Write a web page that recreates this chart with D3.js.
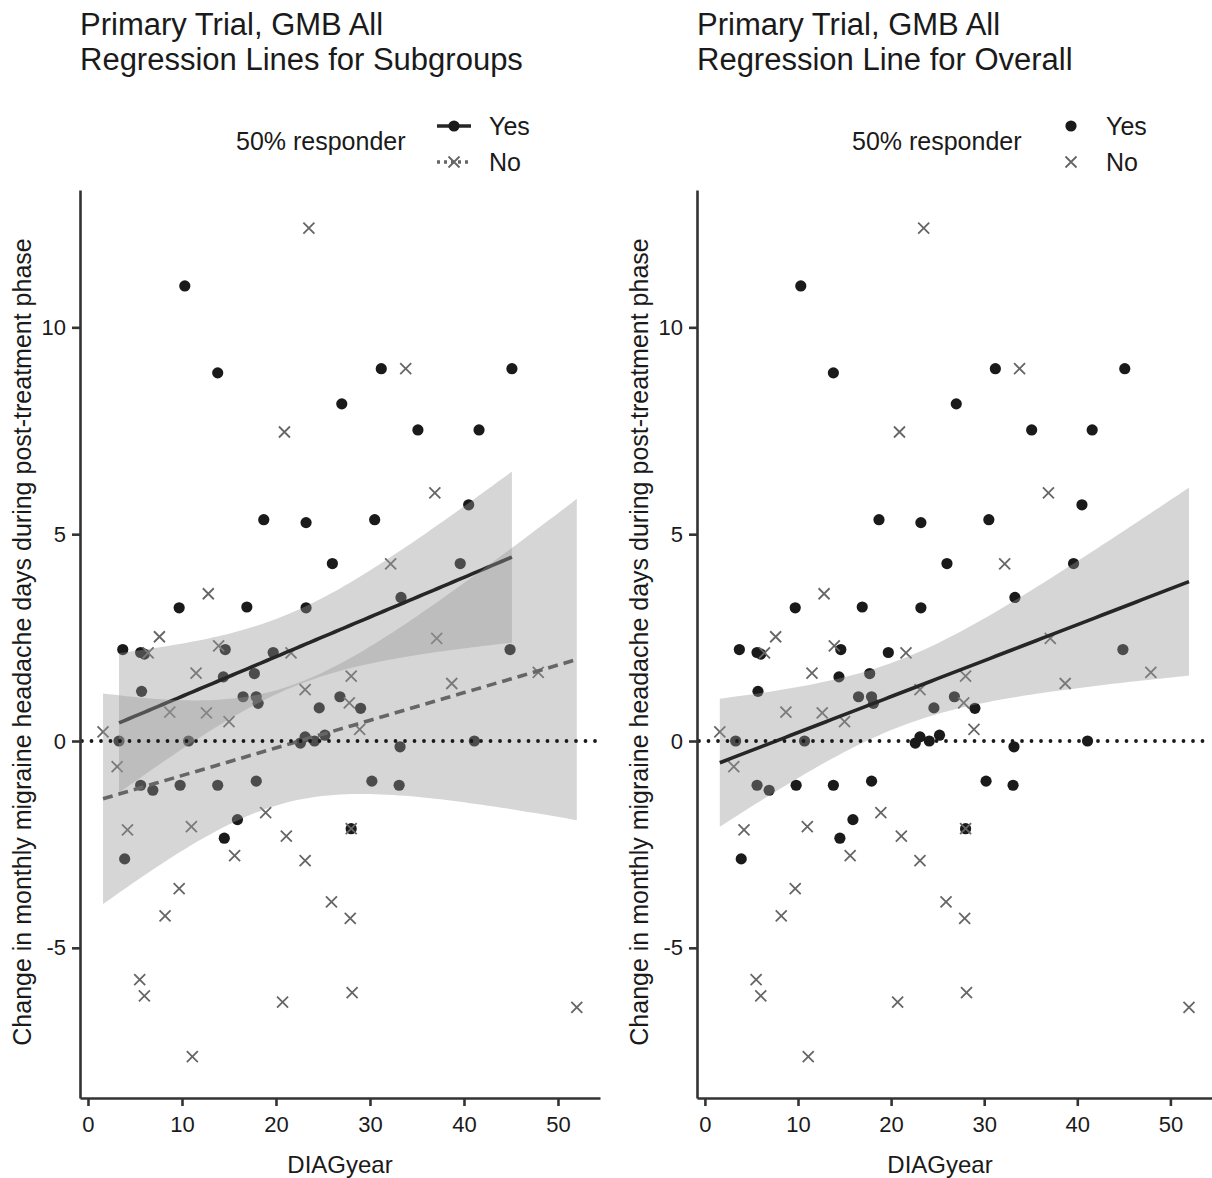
<!DOCTYPE html>
<html>
<head>
<meta charset="utf-8">
<title>Primary Trial, GMB All</title>
<script src="https://d3js.org/d3.v7.min.js"></script>
<style>
body { margin: 0; background: #fff; }
svg text { font-family: "Liberation Sans", Arial, sans-serif; fill: #1a1a1a; }
</style>
</head>
<body>
<script>
// 50% responder = Yes
var yesX = [10.3, 13.8, 31.2, 45.1, 27.0, 35.1, 41.6, 18.7, 23.2, 30.5, 40.5, 26.0, 39.6, 33.3, 9.7, 16.9, 23.2,
            3.7, 5.6, 6.0, 14.6, 19.7, 44.9, 5.7, 14.4, 17.7, 16.5, 17.9, 18.1, 24.6, 26.8, 29.0,
            3.3, 10.7, 22.6, 23.1, 24.1, 25.2, 33.2, 41.1, 30.2, 33.1, 17.9, 5.6, 6.9, 9.8, 13.8, 15.9, 14.5, 3.9, 28.0];
var yesY = [11.0, 8.9, 9.0, 9.0, 8.15, 7.52, 7.52, 5.35, 5.28, 5.35, 5.71, 4.29, 4.29, 3.47, 3.22, 3.24, 3.22,
            2.21, 2.14, 2.1, 2.21, 2.14, 2.21, 1.2, 1.55, 1.63, 1.07, 1.07, 0.91, 0.8, 1.07, 0.79,
            0, 0, -0.05, 0.1, 0, 0.14, -0.14, 0, -0.97, -1.07, -0.97, -1.07, -1.19, -1.07, -1.07, -1.9, -2.35, -2.85, -2.12];
// 50% responder = No
var noX = [23.5, 33.8, 20.9, 36.9, 32.2, 12.8, 7.6, 6.4, 13.9, 21.6, 11.5, 37.1, 23.1, 28.0, 38.7, 47.9, 27.8, 28.9,
           8.7, 12.6, 15.0, 1.6, 3.1, 4.2, 11.0, 18.9, 21.1, 15.6, 23.1, 9.7, 8.2, 25.9, 27.9, 5.5, 6.0, 20.7, 28.1, 52.0, 11.1, 28.0];
var noY = [12.4, 9.0, 7.47, 6.0, 4.28, 3.56, 2.52, 2.13, 2.3, 2.13, 1.64, 2.48, 1.24, 1.57, 1.39, 1.66, 0.92, 0.28,
           0.7, 0.68, 0.47, 0.22, -0.62, -2.15, -2.07, -1.73, -2.3, -2.77, -2.89, -3.57, -4.23, -3.89, -4.29, -5.77, -6.16, -6.31, -6.08, -6.44, -7.63, -2.12];

var xTicks = [0, 10, 20, 30, 40, 50];
var yTicks = [-5, 0, 5, 10];
var groups = ["Yes", "No"];
var legendTitle = "50% responder";
var xTitle = "DIAGyear";
var yTitle = "Change in monthly migraine headache days during post-treatment phase";
var titlesLeft = ["Primary Trial, GMB All", "Regression Lines for Subgroups"];
var titlesRight = ["Primary Trial, GMB All", "Regression Line for Overall"];

var width = 1212, height = 1178;
var svg = d3.select("body").append("svg").attr("width", width).attr("height", height);

var yesPts = yesX.map(function(x, i){ return {x: x, y: yesY[i], g: "Yes"}; });
var noPts = noX.map(function(x, i){ return {x: x, y: noY[i], g: "No"}; });
var allPts = yesPts.concat(noPts);

// linear fit with 95% confidence band, like geom_smooth(method = "lm")
function fitBand(pts){
    var xs = pts.map(function(p){ return p.x; }), ys = pts.map(function(p){ return p.y; });
    var n = xs.length, mx = d3.mean(xs), my = d3.mean(ys);
    var sxx = d3.sum(xs, function(x){ return (x - mx) * (x - mx); });
    var sxy = d3.sum(xs, function(x, i){ return (x - mx) * (ys[i] - my); });
    var b = sxy / sxx, a = my - b * mx;
    var s2 = d3.sum(xs, function(x, i){ var r = ys[i] - a - b * x; return r * r; }) / (n - 2);
    var t = 1.96 + 2.4 / (n - 2);
    var ext = d3.extent(xs);
    return d3.range(81).map(function(k){
        var x = ext[0] + (ext[1] - ext[0]) * k / 80;
        var hw = t * Math.sqrt(s2 * (1 / n + (x - mx) * (x - mx) / sxx));
        return {x: x, y: a + b * x, lo: a + b * x - hw, hi: a + b * x + hw};
    });
}

var dotCol = "#1a1a1a", crossCol = "#666666";

function drawPanel(x0, x1, titles, subgroups, legendX, keyX, xTitleX){
    var top = 190, bottom = 1098;
    var x = d3.scaleLinear().domain([-0.85, 54.47]).range([x0, x1]);
    var y = d3.scaleLinear().domain([-8.63, 13.32]).range([bottom, top]);
    var g = svg.append("g");

    // titles
    titles.forEach(function(t, i){
        g.append("text").attr("x", x0).attr("y", 35 + i * 34.5).style("font-size", "31px").text(t);
    });

    // points
    g.selectAll(".dot").data(yesPts).enter().append("circle")
        .attr("cx", function(d){ return x(d.x); }).attr("cy", function(d){ return y(d.y); })
        .attr("r", 5.6).attr("fill", dotCol);
    g.selectAll(".cross").data(noPts).enter().append("path")
        .attr("transform", function(d){ return "translate(" + x(d.x) + "," + y(d.y) + ")"; })
        .attr("d", "M-5.5,-5.5L5.5,5.5M-5.5,5.5L5.5,-5.5")
        .attr("stroke", crossCol).attr("stroke-width", 1.8).attr("fill", "none");

    var area = d3.area().x(function(d){ return x(d.x); })
        .y0(function(d){ return y(d.lo); }).y1(function(d){ return y(d.hi); });
    var line = d3.line().x(function(d){ return x(d.x); }).y(function(d){ return y(d.y); });

    var fits;
    if (subgroups) {
        fits = [{band: fitBand(yesPts), col: "#262626", dash: null},
                {band: fitBand(noPts), col: "#666666", dash: "10 6"}];
    } else {
        fits = [{band: fitBand(allPts), col: "#262626", dash: null}];
    }
    fits.forEach(function(f){
        g.append("path").datum(f.band).attr("d", area).attr("fill", "#999999").attr("fill-opacity", 0.4);
        g.append("path").datum(f.band).attr("d", line).attr("fill", "none")
            .attr("stroke", f.col).attr("stroke-width", 3.6).attr("stroke-dasharray", f.dash);
    });

    // zero reference line
    g.append("line").attr("x1", x0 + 2).attr("x2", x1).attr("y1", y(0)).attr("y2", y(0))
        .attr("stroke", "#1a1a1a").attr("stroke-width", 3.8)
        .attr("stroke-linecap", "round").attr("stroke-dasharray", "0 9.5");

    // axes
    var xa = g.append("g").attr("transform", "translate(0," + bottom + ")")
        .call(d3.axisBottom(x).tickValues(xTicks).tickSize(8).tickSizeOuter(0).tickPadding(10));
    var ya = g.append("g").attr("transform", "translate(" + x0 + ",0)")
        .call(d3.axisLeft(y).tickValues(yTicks).tickSize(8).tickSizeOuter(0).tickPadding(6)
            .tickFormat(function(d){ return d < 0 ? "-" + Math.abs(d) : d; }));
    [xa, ya].forEach(function(a){
        a.selectAll("path, line").attr("stroke", "#333333").attr("stroke-width", 2.6);
        a.selectAll("text").style("font-size", "22px").attr("fill", "#1a1a1a").style("font-family", "'Liberation Sans', Arial, sans-serif");
    });

    g.append("text").attr("x", xTitleX).attr("y", 1173).attr("text-anchor", "middle")
        .style("font-size", "24px").text(xTitle);
    g.append("text").attr("transform", "translate(" + (x0 - 49) + "," + ((top + bottom) / 2 - 2) + ") rotate(-90)")
        .attr("text-anchor", "middle").style("font-size", "25px").text(yTitle);

    // legend
    g.append("text").attr("x", legendX).attr("y", 150).style("font-size", "25px").text(legendTitle);
    groups.forEach(function(grp, i){
        var ky = 126 + i * 36;
        var k = g.append("g").attr("transform", "translate(" + keyX + "," + ky + ")");
        if (subgroups) {
            k.append("line").attr("x1", -17).attr("x2", 17)
                .attr("stroke", grp === "Yes" ? "#262626" : "#666666").attr("stroke-width", 3.6)
                .attr("stroke-dasharray", grp === "Yes" ? null : "3 4");
        }
        if (grp === "Yes") {
            k.append("circle").attr("r", 5.6).attr("fill", dotCol);
        } else {
            k.append("path").attr("d", "M-5.5,-5.5L5.5,5.5M-5.5,5.5L5.5,-5.5")
                .attr("stroke", crossCol).attr("stroke-width", 1.8);
        }
        g.append("text").attr("x", keyX + 35).attr("y", ky + 9).style("font-size", "25px").text(grp);
    });
}

drawPanel(80, 600, titlesLeft, true, 236, 454, 340);
drawPanel(697, 1212, titlesRight, false, 852, 1071, 940);
</script>
</body>
</html>
